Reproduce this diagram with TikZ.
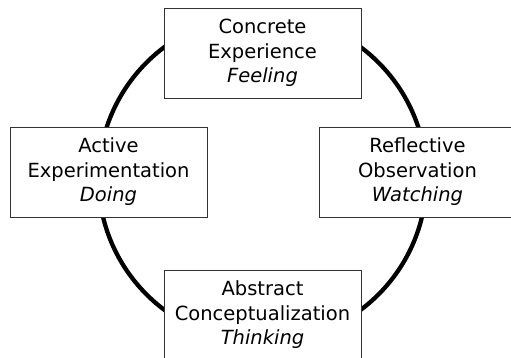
\documentclass[tikz,border=0pt]{standalone}
\usepackage{fontspec}
\setmainfont{DejaVu Sans}
\begin{document}
\begin{tikzpicture}[x=1pt,y=-1pt,
  stage/.style={draw=black!80, line width=0.9pt, fill=white, minimum width=197pt, minimum height=90pt,
    inner sep=0pt, align=center, font=\fontsize{19.5}{24.5}\selectfont},
  ring/.style={circle, draw=black, line width=4.3pt, minimum size=328pt, inner sep=0pt}]
\useasboundingbox (0,0) rectangle (511,358);
\clip (0,0) rectangle (511,358);
\node[ring] (cycle) at (262.5,178.5) {};
\node[stage] (ce) at (262.5,53) {Concrete\\Experience\\\textit{Feeling}};
\node[stage] (ae) at (108.5,172) {Active\\Experimentation\\\textit{Doing}};
\node[stage] (ro) at (417.5,172) {Reflective\\Observation\\\textit{Watching}};
\node[stage] (ac) at (262.5,315) {Abstract\\Conceptualization\\\textit{Thinking}};
\end{tikzpicture}
\end{document}
